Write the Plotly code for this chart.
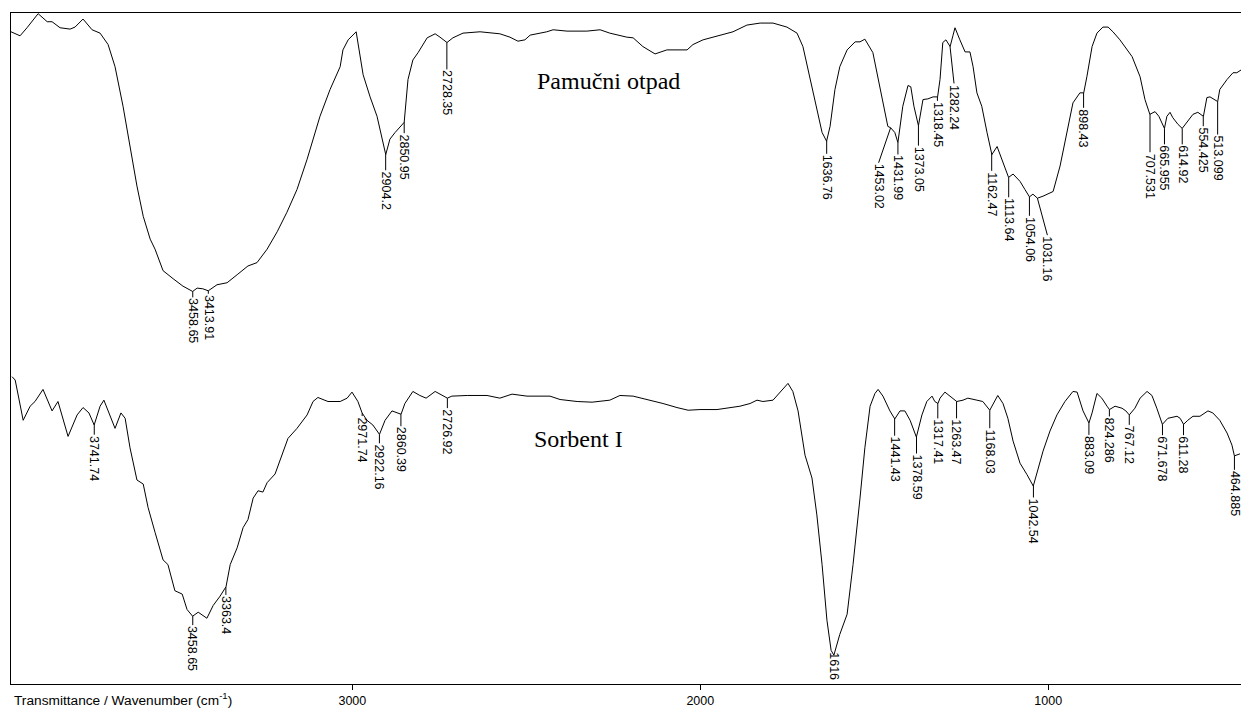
import numpy as np
import plotly.graph_objects as go

# ---- Data: Pamučni otpad (upper spectrum) ----
wn_top = [3981, 3955, 3935, 3903, 3877, 3863, 3840, 3811, 3797, 3774, 3748, 3725, 3702, 3682,
          3659, 3639, 3619, 3601, 3581, 3567, 3544, 3515, 3487, 3459, 3446, 3430, 3414, 3389,
          3360, 3331, 3300, 3274, 3245, 3216, 3188, 3159, 3130, 3093, 3064, 3035, 3027, 3012,
          2989, 2969, 2949, 2929, 2904, 2892, 2877, 2851, 2840, 2826, 2811, 2785, 2762, 2748,
          2728, 2711, 2682, 2633, 2576, 2547, 2524, 2504, 2489, 2441, 2423, 2383, 2326, 2288,
          2260, 2211, 2193, 2165, 2130, 2096, 2038, 2021, 1992, 1906, 1866, 1828, 1791, 1751,
          1722, 1705, 1685, 1665, 1650, 1637, 1627, 1613, 1599, 1578, 1555, 1541, 1527, 1504,
          1478, 1461, 1453, 1441, 1432, 1418, 1403, 1395, 1386, 1373, 1360, 1346, 1331, 1318,
          1311, 1303, 1294, 1282, 1274, 1268, 1254, 1239, 1225, 1216, 1205, 1191, 1176, 1162,
          1147, 1133, 1114, 1101, 1081, 1067, 1054, 1044, 1031, 1015, 986, 966, 946, 929,
          909, 898, 889, 874, 860, 843, 828, 814, 794, 759, 736, 722, 708, 693, 682, 666,
          659, 650, 642, 627, 615, 601, 584, 570, 554, 544, 535, 513, 507, 486, 469, 458, 446]
t_top = [97.2, 96.6, 97.8, 99.9, 98.7, 98.7, 97.8, 97.6, 97.9, 99.1, 97.5, 97.0, 95.3, 92.0,
         86.1, 80.1, 74.2, 69.7, 66.3, 64.8, 61.6, 60.4, 59.3, 58.5, 59.0, 58.9, 58.6, 59.5,
         59.8, 61.0, 62.3, 62.8, 64.8, 67.4, 70.3, 73.7, 78.2, 84.6, 88.6, 92.0, 94.5, 96.0,
         97.2, 90.8, 87.5, 84.6, 78.9, 81.2, 82.2, 83.7, 90.1, 93.0, 94.1, 96.3, 96.9, 96.4,
         95.6, 96.3, 97.0, 97.2, 96.9, 96.4, 95.8, 96.0, 96.7, 97.2, 97.5, 97.3, 97.3, 97.5,
         97.0, 96.4, 96.3, 95.0, 93.9, 94.5, 94.5, 95.3, 96.0, 97.2, 98.2, 98.5, 98.5, 97.9,
         97.0, 95.0, 90.5, 85.6, 82.2, 80.9, 83.1, 88.6, 92.0, 94.5, 95.7, 95.7, 96.1, 94.1,
         87.5, 83.1, 82.9, 82.2, 80.7, 86.1, 89.2, 89.0, 86.1, 83.2, 87.1, 87.2, 87.5, 87.5,
         90.1, 95.6, 96.0, 95.0, 96.6, 97.8, 96.0, 94.2, 94.2, 92.0, 88.1, 86.1, 82.2, 78.9,
         80.1, 78.2, 75.5, 76.0, 74.9, 73.7, 72.6, 73.0, 72.4, 72.7, 73.4, 77.2, 82.2, 86.6,
         88.1, 88.1, 90.5, 95.0, 97.0, 97.9, 97.9, 97.2, 96.0, 93.5, 90.5, 87.1, 84.9, 85.3, 84.6, 82.8,
         84.6, 85.2, 84.4, 83.4, 82.8, 83.7, 84.9, 85.2, 84.6, 87.4, 87.5, 86.8, 88.6, 90.1, 91.1, 91.1, 91.5]

# ---- Data: Sorbent I (lower spectrum) ----
wn_bot = [3978, 3969, 3946, 3926, 3912, 3889, 3863, 3846, 3817, 3791, 3774, 3757, 3742, 3725,
          3714, 3702, 3682, 3665, 3653, 3639, 3619, 3601, 3587, 3567, 3544, 3530, 3510, 3489,
          3475, 3459, 3443, 3418, 3400, 3380, 3363, 3351, 3331, 3314, 3300, 3285, 3271, 3257,
          3245, 3222, 3208, 3185, 3159, 3130, 3113, 3099, 3070, 3035, 3015, 3001, 2984, 2972,
          2958, 2941, 2922, 2906, 2886, 2872, 2860, 2849, 2826, 2806, 2788, 2762, 2742, 2727,
          2714, 2670, 2613, 2576, 2541, 2498, 2432, 2403, 2354, 2311, 2260, 2231, 2193, 2153,
          2107, 2067, 2035, 2001, 1952, 1886, 1857, 1837, 1820, 1791, 1765, 1748, 1734, 1719,
          1699, 1679, 1665, 1650, 1636, 1624, 1616, 1610, 1599, 1578, 1561, 1541, 1527, 1512,
          1498, 1489, 1475, 1455, 1441, 1426, 1412, 1397, 1379, 1363, 1349, 1334, 1326, 1317,
          1311, 1297, 1282, 1263, 1245, 1231, 1205, 1188, 1168, 1153, 1145, 1130, 1116, 1101,
          1081, 1061, 1043, 1030, 1015, 995, 975, 952, 929, 917, 900, 883, 874, 860, 846, 831,
          824, 808, 788, 777, 767, 751, 736, 716, 702, 688, 672, 656, 630, 621, 611, 599, 584,
          564, 541, 527, 507, 486, 472, 465, 458, 449]
t_bot = [45.8, 45.3, 39.3, 41.4, 42.1, 43.9, 40.7, 42.1, 36.9, 40.1, 41.2, 40.4, 38.6, 41.4,
         42.3, 40.8, 38.1, 40.4, 39.6, 35.2, 30.4, 29.8, 26.3, 22.6, 18.5, 17.8, 13.9, 13.4,
         11.1, 10.1, 10.7, 9.8, 11.7, 13.1, 14.5, 17.8, 20.3, 23.3, 24.5, 27.7, 28.8, 28.6,
         30.0, 31.3, 33.4, 36.6, 38.1, 40.1, 42.1, 42.7, 42.1, 42.1, 42.6, 43.5, 42.1, 40.4,
         39.3, 38.6, 37.2, 39.3, 40.7, 40.4, 40.2, 41.8, 43.6, 43.0, 42.6, 43.6, 43.0, 42.6,
         42.9, 43.0, 43.0, 42.6, 43.2, 42.9, 42.9, 42.4, 42.1, 42.0, 42.3, 43.0, 42.9, 42.4,
         41.8, 41.2, 40.8, 40.9, 40.9, 41.4, 41.8, 42.3, 42.1, 42.3, 43.8, 44.8, 43.6, 40.7,
         34.1, 30.7, 25.2, 17.8, 9.5, 5.0, 4.3, 5.5, 7.4, 10.4, 17.8, 27.7, 35.2, 41.4,
         43.3, 43.9, 42.9, 40.7, 39.5, 40.7, 40.7, 39.3, 36.8, 40.1, 42.1, 42.9, 42.1, 41.8,
         42.6, 43.5, 42.9, 42.1, 42.3, 42.6, 42.3, 42.1, 40.8, 42.3, 43.0, 41.8, 39.6, 36.2,
         32.9, 31.2, 29.5, 31.9, 34.7, 37.7, 40.1, 42.1, 43.6, 43.5, 40.7, 38.9, 40.4, 43.3, 42.6, 41.4,
         40.9, 41.4, 41.1, 40.7, 40.1, 41.1, 42.6, 43.6, 43.0, 41.1, 38.7, 39.6, 39.9, 39.6, 38.7, 39.3, 39.9,
         39.9, 40.7, 40.4, 39.3, 37.4, 35.6, 34.0, 34.1, 34.3]

peaks_top = ["3458.65", "3413.91", "2904.2", "2850.95", "2728.35", "1636.76", "1453.02",
             "1431.99", "1373.05", "1318.45", "1282.24", "1162.47", "1113.64", "1054.06",
             "1031.16", "898.43", "707.531", "665.955", "614.92", "554.425", "513.099"]
peaks_bot = ["3741.74", "3458.65", "3363.4", "2971.74", "2922.16", "2860.39", "2726.92",
             "1616", "1441.43", "1378.59", "1317.41", "1263.47", "1168.03", "1042.54",
             "883.09", "824.286", "767.12", "671.678", "611.28", "464.885"]

tick_vals = [3000, 2000, 1000]
label_top = "Pamučni otpad"
label_bot = "Sorbent I"
axis_title = "Transmittance / Wavenumber (cm<sup>-1</sup>)"

# ---- style: leader offsets in pixels (dx, length) ----
off_top = {"3458.65": (0, 6), "3413.91": (0, 3), "2904.2": (0, 16), "2850.95": (0, 11),
           "2728.35": (0, 27), "1636.76": (0, 13), "1453.02": (-12, 35), "1431.99": (0, 12),
           "1373.05": (0, 20), "1318.45": (0, 4), "1282.24": (4, 37), "1162.47": (0, 17),
           "1113.64": (0, 20), "1054.06": (0, 19), "1031.16": (10, 37), "898.43": (0, 15),
           "707.531": (0, 38), "665.955": (0, 16), "614.92": (0, 16), "554.425": (0, 10),
           "513.099": (0, 33)}
off_bot = {"3741.74": (0, 10), "3458.65": (0, 9), "3363.4": (0, 8), "2971.74": (0, 3),
           "2922.16": (0, 9), "2860.39": (0, 12), "2726.92": (0, 10), "1616": (0, -4),
           "1441.43": (0, 17), "1378.59": (0, 17), "1317.41": (0, 15), "1263.47": (0, 17),
           "1168.03": (0, 18), "1042.54": (0, 12), "883.09": (0, 12), "824.286": (0, 7),
           "767.12": (0, 10), "671.678": (0, 11), "611.28": (0, 11), "464.885": (0, 14)}

SANS = "Liberation Sans, Arial, sans-serif"
LBL_FONT = dict(family=SANS, size=12.5, color="black")

fig = go.Figure()
for wn, t in ((wn_top, t_top), (wn_bot, t_bot)):
    fig.add_trace(go.Scatter(x=wn, y=t, mode="lines",
                             line=dict(color="black", width=1), hoverinfo="skip",
                             showlegend=False))

annotations = []
shapes = []
for wn, t, peaks, offs in ((wn_top, t_top, peaks_top, off_top),
                           (wn_bot, t_bot, peaks_bot, off_bot)):
    xs = np.array(wn[::-1], dtype=float)
    ys = np.array(t[::-1], dtype=float)
    for p in peaks:
        px = float(p)
        py = float(np.interp(px, xs, ys))
        dx, ln = offs[p]
        if ln > 0:
            shapes.append(dict(type="line", xref="x", yref="y",
                               xsizemode="pixel", xanchor=px, x0=0, x1=dx,
                               ysizemode="pixel", yanchor=py, y0=0, y1=-ln,
                               line=dict(color="black", width=1)))
        annotations.append(dict(x=px, y=py, xref="x", yref="y", text=p, textangle=90,
                                showarrow=False, yanchor="top", xanchor="center",
                                xshift=dx, yshift=-ln, borderpad=0, font=LBL_FONT))

SERIF = dict(family="Liberation Serif, Times New Roman, serif", size=24, color="black")
annotations.append(dict(x=2265, y=89.9, xref="x", yref="y", text=label_top,
                        showarrow=False, font=SERIF))
annotations.append(dict(x=2349, y=36.5, xref="x", yref="y", text=label_bot,
                        showarrow=False, font=SERIF))
annotations.append(dict(x=0, y=0, xref="paper", yref="paper", text=axis_title,
                        showarrow=False, xanchor="left", yanchor="top", yshift=-4, xshift=1,
                        font=dict(family=SANS, size=13.7, color="black")))

fig.update_layout(
    width=1241, height=708,
    margin=dict(l=11, r=0, t=13, b=21),
    paper_bgcolor="white", plot_bgcolor="white",
    annotations=annotations, shapes=shapes,
    xaxis=dict(range=[3981, 446], tickvals=tick_vals, ticktext=[str(v) for v in tick_vals],
               ticks="outside", ticklen=5, tickcolor="black", showgrid=False,
               zeroline=False, showline=True, linecolor="black", linewidth=1, mirror=True,
               tickfont=dict(family=SANS, size=12.5, color="black")),
    yaxis=dict(range=[0, 100], showticklabels=False, ticks="", showgrid=False,
               zeroline=False, showline=True, linecolor="black", linewidth=1),
)

# remove the default 8px page margin so the figure fills the window exactly
fig.write_html("out.html",
               config={"displayModeBar": False},
               post_script="document.body.style.margin='0px';"
                           "document.documentElement.style.overflow='hidden';")
